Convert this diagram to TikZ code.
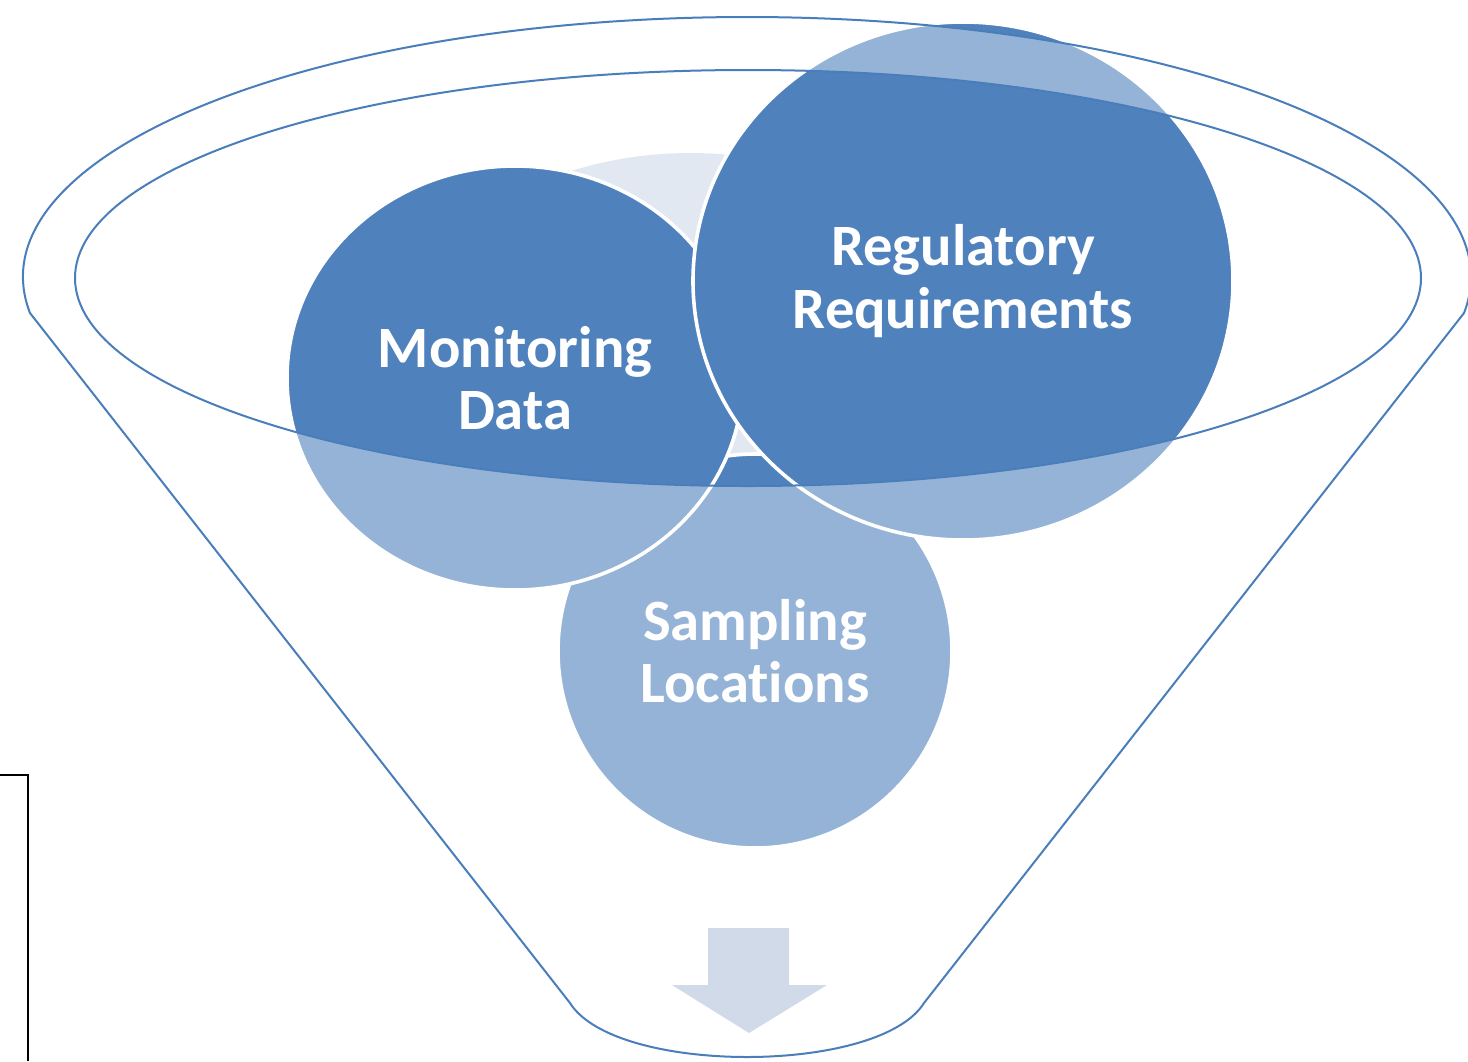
\documentclass[tikz,border=0pt]{standalone}
\usepackage{fontspec}
\setmainfont{Carlito}[Ligatures=NoCommon]
\usetikzlibrary{shapes.geometric}
\begin{document}
\begin{tikzpicture}[x=0.5pt,y=-0.5pt,
        burbuja/.style={draw=white,line width=1.8pt,fill=oscuro,inner sep=0pt,
            text=white,align=center,font=\fontsize{29.3}{31.2}\selectfont\bfseries},
        borde/.style={draw=bborde,line width=1pt}]
        %colores
        \definecolor{oscuro}{HTML}{4F81BD}
        \definecolor{bborde}{HTML}{4A7EBB}
        \definecolor{claro}{HTML}{E2E8F2}
        \definecolor{flecha}{HTML}{D0DAE8}
        \useasboundingbox (0,0) rectangle (1468,1061);

        % Esquinas del embudo
        \coordinate (izq) at (30,313);
        \coordinate (der) at (1464,313);
        \coordinate (bizq) at (570,1003);
        \coordinate (bder) at (924,1003);

        % Fondo claro dentro de la boca
        \begin{scope}
            \clip (748,278) ellipse [x radius=673, y radius=208];
            \fill[claro] (690,553) circle [radius=400];
        \end{scope}

        % Circulos
        \node[burbuja,circle,minimum size=197pt] (muestreo) at (755,651) {Sampling\\Locations};
        \node[burbuja,ellipse,minimum width=228pt,minimum height=212pt] (monitoreo) at (515,378) {Monitoring\\Data};
        \node[burbuja,ellipse,minimum width=270pt,minimum height=259pt] (normas) at (963,281) {Regulatory\\Requirements};

        % Cuerpo del embudo, velo blanco
        \fill[white,opacity=0.4,even odd rule] (izq)
            arc [start angle=172.04, end angle=367.96, x radius=724, y radius=260]
            -- (bder) .. controls (879,1075) and (615,1075) .. (bizq) -- cycle
            (748,278) ellipse [x radius=673, y radius=208];

        % Contorno
        \draw[borde] (izq)
            arc [start angle=172.04, end angle=367.96, x radius=724, y radius=260]
            -- (bder) .. controls (879,1075) and (615,1075) .. (bizq) -- cycle;
        \draw[borde] (748,278) ellipse [x radius=673, y radius=208];

        % Flecha
        \fill[flecha] (708,928) -- (789,928) -- (789,985) -- (827,985) -- (749,1033)
            -- (672,985) -- (708,985) -- cycle;

        % Marco
        \draw[black,line width=1pt] (0,775) -- (28,775) -- (28,1061);
    \end{tikzpicture}
\end{document}
